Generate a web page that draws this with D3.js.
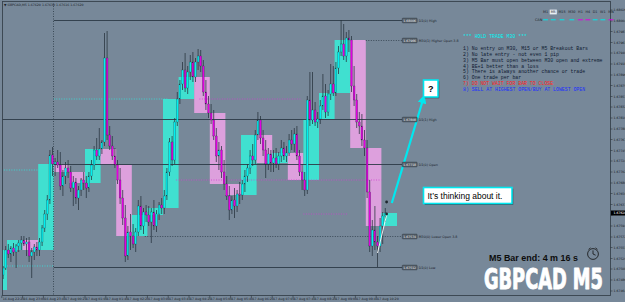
<!DOCTYPE html>
<html>
<head>
<meta charset="utf-8">
<script src="https://cdn.jsdelivr.net/npm/d3@7.9.0/dist/d3.min.js"></script>
<style>
  html, body { margin: 0; padding: 0; background: #778899; }
  svg { display: block; }
</style>
</head>
<body>
<svg id="chart" width="625" height="302"></svg>
<script>
// GBPCAD M5 candles, [open, high, low, close], first bar = 16 Aug 22:00
const m5 = [
  [1.67466,1.67480,1.67460,1.67474],[1.67474,1.67486,1.67468,1.67482],[1.67482,1.67492,1.67474,1.67486],
  [1.67486,1.67502,1.67480,1.67496],[1.67496,1.67514,1.67488,1.67510],[1.67510,1.67554,1.67506,1.67546],
  [1.67546,1.67558,1.67530,1.67538],[1.67538,1.67554,1.67522,1.67550],[1.67550,1.67560,1.67534,1.67542],
  [1.67542,1.67558,1.67510,1.67554],[1.67554,1.67566,1.67542,1.67560],[1.67560,1.67574,1.67546,1.67566],
  [1.67566,1.67574,1.67554,1.67558],[1.67558,1.67570,1.67534,1.67562],[1.67562,1.67572,1.67522,1.67534],
  [1.67534,1.67550,1.67490,1.67542],[1.67542,1.67558,1.67526,1.67552],[1.67552,1.67562,1.67534,1.67546],
  [1.67546,1.67570,1.67534,1.67562],[1.67562,1.67596,1.67554,1.67590],[1.67590,1.67626,1.67582,1.67618],
  [1.67618,1.67656,1.67606,1.67646],[1.67646,1.67746,1.67638,1.67736],[1.67736,1.67752,1.67694,1.67718],
  [1.67718,1.67730,1.67694,1.67722],[1.67722,1.67746,1.67710,1.67716],[1.67716,1.67742,1.67666,1.67674],
  [1.67674,1.67706,1.67654,1.67694],[1.67694,1.67722,1.67678,1.67710],[1.67710,1.67726,1.67690,1.67702],
  [1.67702,1.67714,1.67662,1.67670],[1.67670,1.67694,1.67634,1.67682],[1.67682,1.67690,1.67638,1.67650],
  [1.67650,1.67674,1.67626,1.67666],[1.67666,1.67690,1.67654,1.67686],[1.67686,1.67702,1.67666,1.67680],
  [1.67680,1.67694,1.67650,1.67670],[1.67670,1.67702,1.67662,1.67694],[1.67694,1.67726,1.67686,1.67716],
  [1.67716,1.67754,1.67706,1.67746],[1.67746,1.67770,1.67726,1.67734],[1.67734,1.67790,1.67726,1.67748],
  [1.67748,1.67766,1.67738,1.67762],[1.67762,1.67980,1.67754,1.67930],[1.67930,1.67984,1.67766,1.67776],
  [1.67776,1.67794,1.67746,1.67754],[1.67754,1.67774,1.67726,1.67734],[1.67734,1.67750,1.67710,1.67716],
  [1.67716,1.67726,1.67678,1.67686],[1.67686,1.67710,1.67638,1.67650],[1.67650,1.67666,1.67596,1.67610],
  [1.67610,1.67636,1.67522,1.67534],[1.67534,1.67594,1.67526,1.67582],[1.67582,1.67618,1.67546,1.67574],
  [1.67574,1.67598,1.67550,1.67558],[1.67558,1.67590,1.67542,1.67582],[1.67582,1.67646,1.67574,1.67634],
  [1.67634,1.67654,1.67586,1.67594],[1.67594,1.67630,1.67578,1.67622],[1.67622,1.67636,1.67602,1.67616],
  [1.67616,1.67634,1.67594,1.67602],[1.67602,1.67630,1.67560,1.67622],[1.67622,1.67646,1.67586,1.67594],
  [1.67594,1.67626,1.67582,1.67618],[1.67618,1.67642,1.67606,1.67636],[1.67636,1.67650,1.67618,1.67630],
  [1.67630,1.67666,1.67618,1.67654],[1.67654,1.67710,1.67646,1.67702],[1.67702,1.67770,1.67694,1.67762],
  [1.67762,1.67774,1.67714,1.67726],[1.67726,1.67810,1.67718,1.67802],[1.67802,1.67862,1.67794,1.67848],
  [1.67848,1.67886,1.67838,1.67878],[1.67878,1.67922,1.67866,1.67906],[1.67906,1.67940,1.67862,1.67870],
  [1.67870,1.67914,1.67858,1.67902],[1.67902,1.67936,1.67886,1.67922],[1.67922,1.67942,1.67882,1.67892],
  [1.67892,1.67930,1.67882,1.67922],[1.67922,1.67948,1.67906,1.67934],[1.67934,1.67946,1.67902,1.67914],
  [1.67914,1.67926,1.67854,1.67862],[1.67862,1.67886,1.67826,1.67838],[1.67838,1.67854,1.67810,1.67820],
  [1.67820,1.67838,1.67798,1.67806],[1.67806,1.67826,1.67766,1.67774],[1.67774,1.67790,1.67722,1.67734],
  [1.67734,1.67762,1.67706,1.67746],[1.67746,1.67754,1.67690,1.67702],[1.67702,1.67726,1.67666,1.67678],
  [1.67678,1.67694,1.67646,1.67654],[1.67654,1.67674,1.67606,1.67626],[1.67626,1.67654,1.67618,1.67646],
  [1.67646,1.67670,1.67610,1.67634],[1.67634,1.67666,1.67622,1.67658],[1.67658,1.67682,1.67638,1.67656],
  [1.67656,1.67686,1.67646,1.67678],[1.67678,1.67706,1.67662,1.67694],[1.67694,1.67718,1.67682,1.67710],
  [1.67710,1.67746,1.67698,1.67734],[1.67734,1.67758,1.67714,1.67726],[1.67726,1.67786,1.67718,1.67776],
  [1.67776,1.67822,1.67766,1.67806],[1.67806,1.67814,1.67758,1.67770],[1.67770,1.67786,1.67734,1.67746],
  [1.67746,1.67766,1.67690,1.67718],[1.67718,1.67750,1.67706,1.67738],[1.67738,1.67746,1.67702,1.67720],
  [1.67720,1.67746,1.67702,1.67730],[1.67730,1.67750,1.67710,1.67718],[1.67718,1.67742,1.67706,1.67734],
  [1.67734,1.67766,1.67722,1.67750],[1.67750,1.67762,1.67726,1.67734],[1.67734,1.67754,1.67722,1.67740],
  [1.67740,1.67778,1.67734,1.67766],[1.67766,1.67786,1.67746,1.67758],[1.67758,1.67790,1.67742,1.67778],
  [1.67778,1.67794,1.67726,1.67734],[1.67734,1.67746,1.67694,1.67702],[1.67702,1.67718,1.67666,1.67686],
  [1.67686,1.67702,1.67654,1.67666],[1.67666,1.67854,1.67658,1.67846],[1.67846,1.67902,1.67794,1.67806],
  [1.67806,1.67902,1.67798,1.67826],[1.67826,1.67842,1.67794,1.67802],[1.67802,1.67822,1.67790,1.67808],
  [1.67808,1.67846,1.67798,1.67834],[1.67834,1.67898,1.67826,1.67854],[1.67854,1.67878,1.67810,1.67822],
  [1.67822,1.67866,1.67814,1.67858],[1.67858,1.67918,1.67846,1.67878],[1.67878,1.67914,1.67854,1.67860],
  [1.67860,1.67922,1.67854,1.67910],[1.67910,1.67954,1.67898,1.67942],[1.67942,1.68006,1.67934,1.67958],
  [1.67958,1.67998,1.67926,1.67934],[1.67934,1.67982,1.67922,1.67970],[1.67970,1.67986,1.67942,1.67966],
  [1.67966,1.67974,1.67862,1.67874],[1.67874,1.67914,1.67834,1.67846],[1.67846,1.67858,1.67790,1.67802],
  [1.67802,1.67822,1.67778,1.67794],[1.67794,1.67818,1.67754,1.67766],[1.67766,1.67786,1.67734,1.67750],
  [1.67750,1.67766,1.67650,1.67662],[1.67662,1.67686,1.67542,1.67554],[1.67554,1.67606,1.67534,1.67586],
  [1.67586,1.67634,1.67546,1.67562],[1.67562,1.67574,1.67512,1.67554],[1.67554,1.67610,1.67542,1.67594],
  [1.67594,1.67622,1.67558,1.67614],[1.67614,1.67630,1.67602,1.67620]
];

const priceTicks = [1.68026,1.68004,1.67983,1.67961,1.67940,1.67918,1.67896,1.67875,1.67853,1.67832,
  1.67810,1.67788,1.67767,1.67745,1.67724,1.67702,1.67680,1.67659,1.67637,1.67616,1.67594,1.67572,
  1.67551,1.67529,1.67508,1.67486,1.67464];

const timeTickBars = [4,12,20,28,36,44,52,60,68,76,84,92,100,108,116,124,132,140,148];
const timeLabels = ['16 Aug 22:20','16 Aug 23:00','16 Aug 23:40','17 Aug 00:20','17 Aug 01:00','17 Aug 01:40',
  '17 Aug 02:20','17 Aug 03:00','17 Aug 03:40','17 Aug 04:20','17 Aug 05:00','17 Aug 05:40','17 Aug 06:20',
  '17 Aug 07:00','17 Aug 07:40','17 Aug 08:20','17 Aug 09:00','17 Aug 09:40','17 Aug 10:20'];

const daySeparatorBar = 24; // 17 Aug 00:00
const currentPrice = 1.67620;

const levels = [
  { name: 'D1(0) High', tf: 'D1', price: 1.68006, from: 24 },
  { name: 'M30(1) Higher Open 3.8', tf: 'M30', price: 1.67966, from: 144 },
  { name: 'D1(1) High', tf: 'D1', price: 1.67808, from: 0 },
  { name: 'D1(0) Open', tf: 'D1', price: 1.67718, from: 24 },
  { name: 'M30(0) Lower Open 3.8', tf: 'M30', price: 1.67574, from: 59 },
  { name: 'D1(0) Low', tf: 'D1', price: 1.67512, from: 24 }
];

const guides = [
  { price: 1.67706, from: 0, to: 18, dir: 'up' },
  { price: 1.67514, from: 6, to: 24, dir: 'up' },
  { price: 1.67848, from: 24, to: 68, dir: 'up' },
  { price: 1.67686, from: 71, to: 150, dir: 'down' },
  { price: 1.67848, from: 80, to: 119, dir: 'down' },
  { price: 1.67618, from: 120, to: 137, dir: 'down' }
];

const timeframes = ['M1','M5','M15','M30','H1','H4','D1','W1','MN'];
const strength = ['up','up','up','up','down','down','up','up','down'];

const rulesTitle = '*** HOLD TRADE M30 ***';
const rules = [
  '1) No entry on M30, M15 or M5 Breakout Bars',
  '2) No late entry - not even 1 pip',
  '3) M5 Bar must open between M30 open and extreme',
  '4) BE+1 better than a loss',
  '5) There is always another chance or trade',
  '6) One trade per bar',
  '7) DO NOT WAIT FOR BAR TO CLOSE',
  '8) SELL AT HIGHEST OPEN/BUY AT LOWEST OPEN'
];

const svg = d3.select('#chart');
const plot = { left: 2, top: 1, right: 610, bottom: 295 };
const labelBar = 158;

const x = d3.scaleLinear().domain([0, 240]).range([-8.6, 615.4]);
const y = d3.scaleLinear().domain([1.68046, 1.67466]).range([0, 290]);
const barW = x(1) - x(0);
const fmt = d3.format('.5f');

const bars = m5.map(([o, h, l, c], i) => ({ i, o, h, l, c }));
const boxes = d3.range(Math.ceil(bars.length / 6)).map(k => {
  const s = bars.slice(k * 6, k * 6 + 6);
  return { k, o: s[0].o, c: s[s.length - 1].c };
});

svg.append('rect').attr('width', 625).attr('height', 302).attr('fill', '#778899');

const defs = svg.append('defs');
defs.append('clipPath').attr('id', 'plot-clip')
  .append('rect')
  .attr('x', plot.left).attr('y', plot.top)
  .attr('width', plot.right - plot.left).attr('height', plot.bottom - plot.top);
defs.append('marker')
  .attr('id', 'arrow').attr('viewBox', '0 0 10 10')
  .attr('refX', 6).attr('refY', 5)
  .attr('markerWidth', 4).attr('markerHeight', 4)
  .attr('orient', 'auto-start-reverse')
  .append('path').attr('d', 'M0,0 L10,5 L0,10 z').attr('fill', '#00e8f0');

const g = svg.append('g').attr('clip-path', 'url(#plot-clip)');

// M30 bodies behind the M5 candles
g.append('g').selectAll('rect')
  .data(boxes)
  .join('rect')
  .attr('x', d => x(d.k * 6))
  .attr('width', barW * 6)
  .attr('y', d => y(Math.max(d.o, d.c)))
  .attr('height', d => Math.max(1, Math.abs(y(d.o) - y(d.c))))
  .attr('fill', d => d.c >= d.o ? '#40e0d0' : '#dda0dd');

// dotted guide lines
g.append('g').selectAll('line')
  .data(guides)
  .join('line')
  .attr('x1', d => x(d.from)).attr('x2', d => x(d.to))
  .attr('y1', d => y(d.price)).attr('y2', d => y(d.price))
  .attr('stroke', d => d.dir === 'up' ? '#30e8e0' : '#d040d0')
  .attr('stroke-width', 0.8)
  .attr('stroke-dasharray', '1,1.5');

// level lines
g.append('g').selectAll('line')
  .data(levels)
  .join('line')
  .attr('x1', d => x(d.from)).attr('x2', x(labelBar))
  .attr('y1', d => Math.round(y(d.price)) + 0.5).attr('y2', d => Math.round(y(d.price)) + 0.5)
  .attr('stroke', '#2c3a46')
  .attr('stroke-width', d => d.tf === 'D1' ? 0.9 : 0.8)
  .attr('stroke-dasharray', d => d.tf === 'D1' ? null : '1,1.5');

// day separator
g.append('line')
  .attr('x1', Math.round(x(daySeparatorBar)) - 0.5).attr('x2', Math.round(x(daySeparatorBar)) - 0.5)
  .attr('y1', plot.top).attr('y2', plot.bottom)
  .attr('stroke', '#2c3a46').attr('stroke-width', 0.8).attr('stroke-dasharray', '1,1.5');

// M5 candles
const candles = g.append('g');
candles.selectAll('line')
  .data(bars)
  .join('line')
  .attr('x1', d => x(d.i) + barW / 2).attr('x2', d => x(d.i) + barW / 2)
  .attr('y1', d => y(d.h)).attr('y2', d => y(d.l))
  .attr('stroke', '#26323c').attr('stroke-width', 0.75);
candles.selectAll('rect')
  .data(bars)
  .join('rect')
  .attr('x', d => x(d.i) + barW / 2 - 0.9)
  .attr('width', 1.8)
  .attr('y', d => y(Math.max(d.o, d.c)))
  .attr('height', d => Math.max(0.7, Math.abs(y(d.o) - y(d.c))))
  .attr('fill', d => d.c >= d.o ? '#00f0f0' : '#e000e0')
  .attr('stroke', '#26323c').attr('stroke-width', 0.25);

// trader drawings
g.append('line')
  .attr('x1', x(148.5)).attr('y1', y(1.67540))
  .attr('x2', x(152)).attr('y2', y(1.67616))
  .attr('stroke', '#ffffff').attr('stroke-width', 0.9);
g.append('line')
  .attr('x1', x(154)).attr('y1', y(1.67640))
  .attr('x2', x(166.2)).attr('y2', y(1.67850))
  .attr('stroke', '#00e8f0').attr('stroke-width', 2.2)
  .attr('marker-end', 'url(#arrow)');
g.append('g').selectAll('circle')
  .data([1.67642, 1.67618])
  .join('circle')
  .attr('cx', x(152)).attr('cy', d => y(d)).attr('r', 1.4)
  .attr('fill', '#1e262e');

// level labels
const lab = svg.append('g');
levels.forEach(d => {
  const yy = Math.round(y(d.price)) + 0.5;
  lab.append('rect')
    .attr('x', x(labelBar)).attr('y', yy - 2.4)
    .attr('width', 15).attr('height', 4.8).attr('rx', 0.8)
    .attr('fill', '#56616c').attr('stroke', '#2a323a').attr('stroke-width', 0.4);
  lab.append('text')
    .attr('x', x(labelBar) + 7.5).attr('y', yy + 1.1)
    .attr('text-anchor', 'middle')
    .attr('font-family', 'DejaVu Sans, sans-serif').attr('font-size', 3.1)
    .attr('fill', '#e6e6e6').text(fmt(d.price));
  lab.append('text')
    .attr('x', x(labelBar) + 16.5).attr('y', yy + 1.2)
    .attr('font-family', 'DejaVu Sans, sans-serif').attr('font-size', 3.3)
    .attr('fill', '#1a222a').text(d.name);
});

// frame and axes
svg.append('rect')
  .attr('x', plot.left + 0.5).attr('y', plot.top + 0.5)
  .attr('width', plot.right - plot.left).attr('height', plot.bottom - plot.top)
  .attr('fill', 'none').attr('stroke', '#38434e').attr('stroke-width', 0.9);

// the current price marker hides the tick label under it, as the terminal does
const visibleTicks = priceTicks.filter(p => Math.abs(y(p) - y(currentPrice)) > 4);

const yAxis = svg.append('g');
yAxis.selectAll('line')
  .data(priceTicks)
  .join('line')
  .attr('x1', plot.right + 0.5).attr('x2', plot.right + 2.5)
  .attr('y1', d => y(d)).attr('y2', d => y(d))
  .attr('stroke', '#2a323a').attr('stroke-width', 0.6);
yAxis.selectAll('text')
  .data(visibleTicks)
  .join('text')
  .attr('x', plot.right + 3.5).attr('y', d => y(d) + 1.1)
  .attr('font-family', 'DejaVu Sans, sans-serif').attr('font-size', 3.1)
  .attr('fill', '#1a222a')
  .text(d => fmt(d));

yAxis.append('rect')
  .attr('x', plot.right + 1).attr('y', y(currentPrice) - 2.5)
  .attr('width', 14).attr('height', 5).attr('fill', '#000');
yAxis.append('text')
  .attr('x', plot.right + 3.5).attr('y', y(currentPrice) + 1.1)
  .attr('font-family', 'DejaVu Sans, sans-serif').attr('font-size', 3.1)
  .attr('fill', '#fff').text(fmt(currentPrice));

const xAxis = svg.append('g');
xAxis.selectAll('line')
  .data(timeTickBars)
  .join('line')
  .attr('x1', d => x(d)).attr('x2', d => x(d))
  .attr('y1', plot.bottom + 0.5).attr('y2', plot.bottom + 3)
  .attr('stroke', '#2a323a').attr('stroke-width', 0.6);
xAxis.selectAll('text')
  .data(timeTickBars)
  .join('text')
  .attr('x', d => x(d) + 1).attr('y', 300.3)
  .attr('font-family', 'DejaVu Sans, sans-serif').attr('font-size', 3.2)
  .attr('fill', '#1a222a')
  .text((d, i) => timeLabels[i]);

// symbol line top-left
svg.append('text')
  .attr('x', 4).attr('y', 5.6)
  .attr('font-family', 'DejaVu Sans, sans-serif').attr('font-size', 3.2)
  .attr('fill', '#1a222a')
  .text('\u25BC GBPCAD,M5  1.67620 1.67630 1.67616 1.67620');

// timeframe selector and strength dashes
const tf = svg.append('g').attr('font-family', 'DejaVu Sans, sans-serif').attr('font-size', 3.4);
let tx = 543;
const tfPos = [];
timeframes.forEach(name => {
  const t = tf.append('text').attr('x', tx).attr('y', 13.2).attr('fill', '#1a222a').text(name);
  const w = t.node().getComputedTextLength();
  if (name === 'M5') {
    tf.insert('rect', 'text').attr('x', tx - 1).attr('y', 9.6).attr('width', w + 2).attr('height', 4.8).attr('fill', '#e8eef2');
  }
  tfPos.push(tx + w / 2);
  tx += w + 2.6;
});
tf.append('text').attr('x', 535).attr('y', 21).attr('fill', '#1a222a').text('CAN');
tf.selectAll('line.str')
  .data(strength)
  .join('line')
  .attr('class', 'str')
  .attr('x1', (d, i) => tfPos[i] - 2.4).attr('x2', (d, i) => tfPos[i] + 2.4)
  .attr('y1', 19.8).attr('y2', 19.8)
  .attr('stroke', d => d === 'up' ? '#00e8e8' : '#e000e0')
  .attr('stroke-width', 1);

// rules block
const rb = svg.append('g').attr('font-family', 'Liberation Mono, DejaVu Sans Mono, monospace').attr('font-size', 4.85);
rb.append('text').attr('x', 463).attr('y', 37.8).attr('fill', '#00f4f4').text(rulesTitle);
rb.selectAll('text.rule')
  .data(rules)
  .join('text')
  .attr('class', 'rule')
  .attr('x', 463)
  .attr('y', (d, i) => 50 + i * 5.87)
  .attr('fill', (d, i) => i === 6 ? '#ff1e1e' : i === 7 ? '#1a2eff' : '#0e1830')
  .text(d => d);

// text squeezed to a given width with a horizontal scale
function fitText(parent, tx0, ty0, width, txt, attrs) {
  const holder = parent.append('g');
  const t = holder.append('text').attr('x', 0).attr('y', 0).text(txt);
  Object.entries(attrs).forEach(([k, v]) => t.attr(k, v));
  const w = t.node().getComputedTextLength();
  holder.attr('transform', `translate(${tx0},${ty0}) scale(${width / w},1)`);
  return t;
}

// callouts
function callout(x0, y0, w, h) {
  svg.append('rect').attr('x', x0 + 1.2).attr('y', y0 + 1.2).attr('width', w).attr('height', h).attr('fill', '#2c3540');
  svg.append('rect').attr('x', x0).attr('y', y0).attr('width', w).attr('height', h)
    .attr('fill', '#ffffff').attr('stroke', '#00e8f0').attr('stroke-width', 1.6);
}
callout(423.5, 80, 14.5, 17);
svg.append('text').attr('x', 430.8).attr('y', 92.3).attr('text-anchor', 'middle')
  .attr('font-family', 'Liberation Sans, Arial, sans-serif').attr('font-size', 9).attr('font-weight', 'bold')
  .attr('fill', '#000').text('?');
callout(423.5, 187.5, 88.5, 16);
fitText(svg, 427.5, 198.8, 75, 'It\u2019s thinking about it.', {
  'font-family': 'Liberation Sans, Arial, sans-serif', 'font-size': 9, fill: '#000'
});

// bar timer
fitText(svg, 489, 261.3, 89, 'M5 Bar end: 4 m 16 s', {
  'font-family': 'Liberation Sans, Arial, sans-serif', 'font-size': 9, 'font-weight': 'bold', fill: '#0c0c0c'
});
const clock = svg.append('g').attr('transform', 'translate(593,254)').attr('stroke', '#111').attr('fill', 'none');
clock.append('circle').attr('r', 5.4).attr('stroke-width', 0.8);
clock.append('path').attr('d', 'M0,0 L0,-3.6 M0,0 L2.6,1.2').attr('stroke-width', 0.8);
clock.append('path').attr('d', 'M-2.5,-6.2 L-4.5,-4.6 M2.5,-6.2 L4.5,-4.6').attr('stroke-width', 0.7);

// symbol watermark
fitText(svg, 484, 288.5, 119, 'GBPCAD M5', {
  'font-family': 'Liberation Sans Narrow, DejaVu Sans Condensed, Liberation Sans, sans-serif',
  'font-size': 28, 'font-weight': 'bold', fill: '#ffffff',
  stroke: '#ffffff', 'stroke-width': 0.9, 'stroke-linejoin': 'round'
});
</script>
</body>
</html>
